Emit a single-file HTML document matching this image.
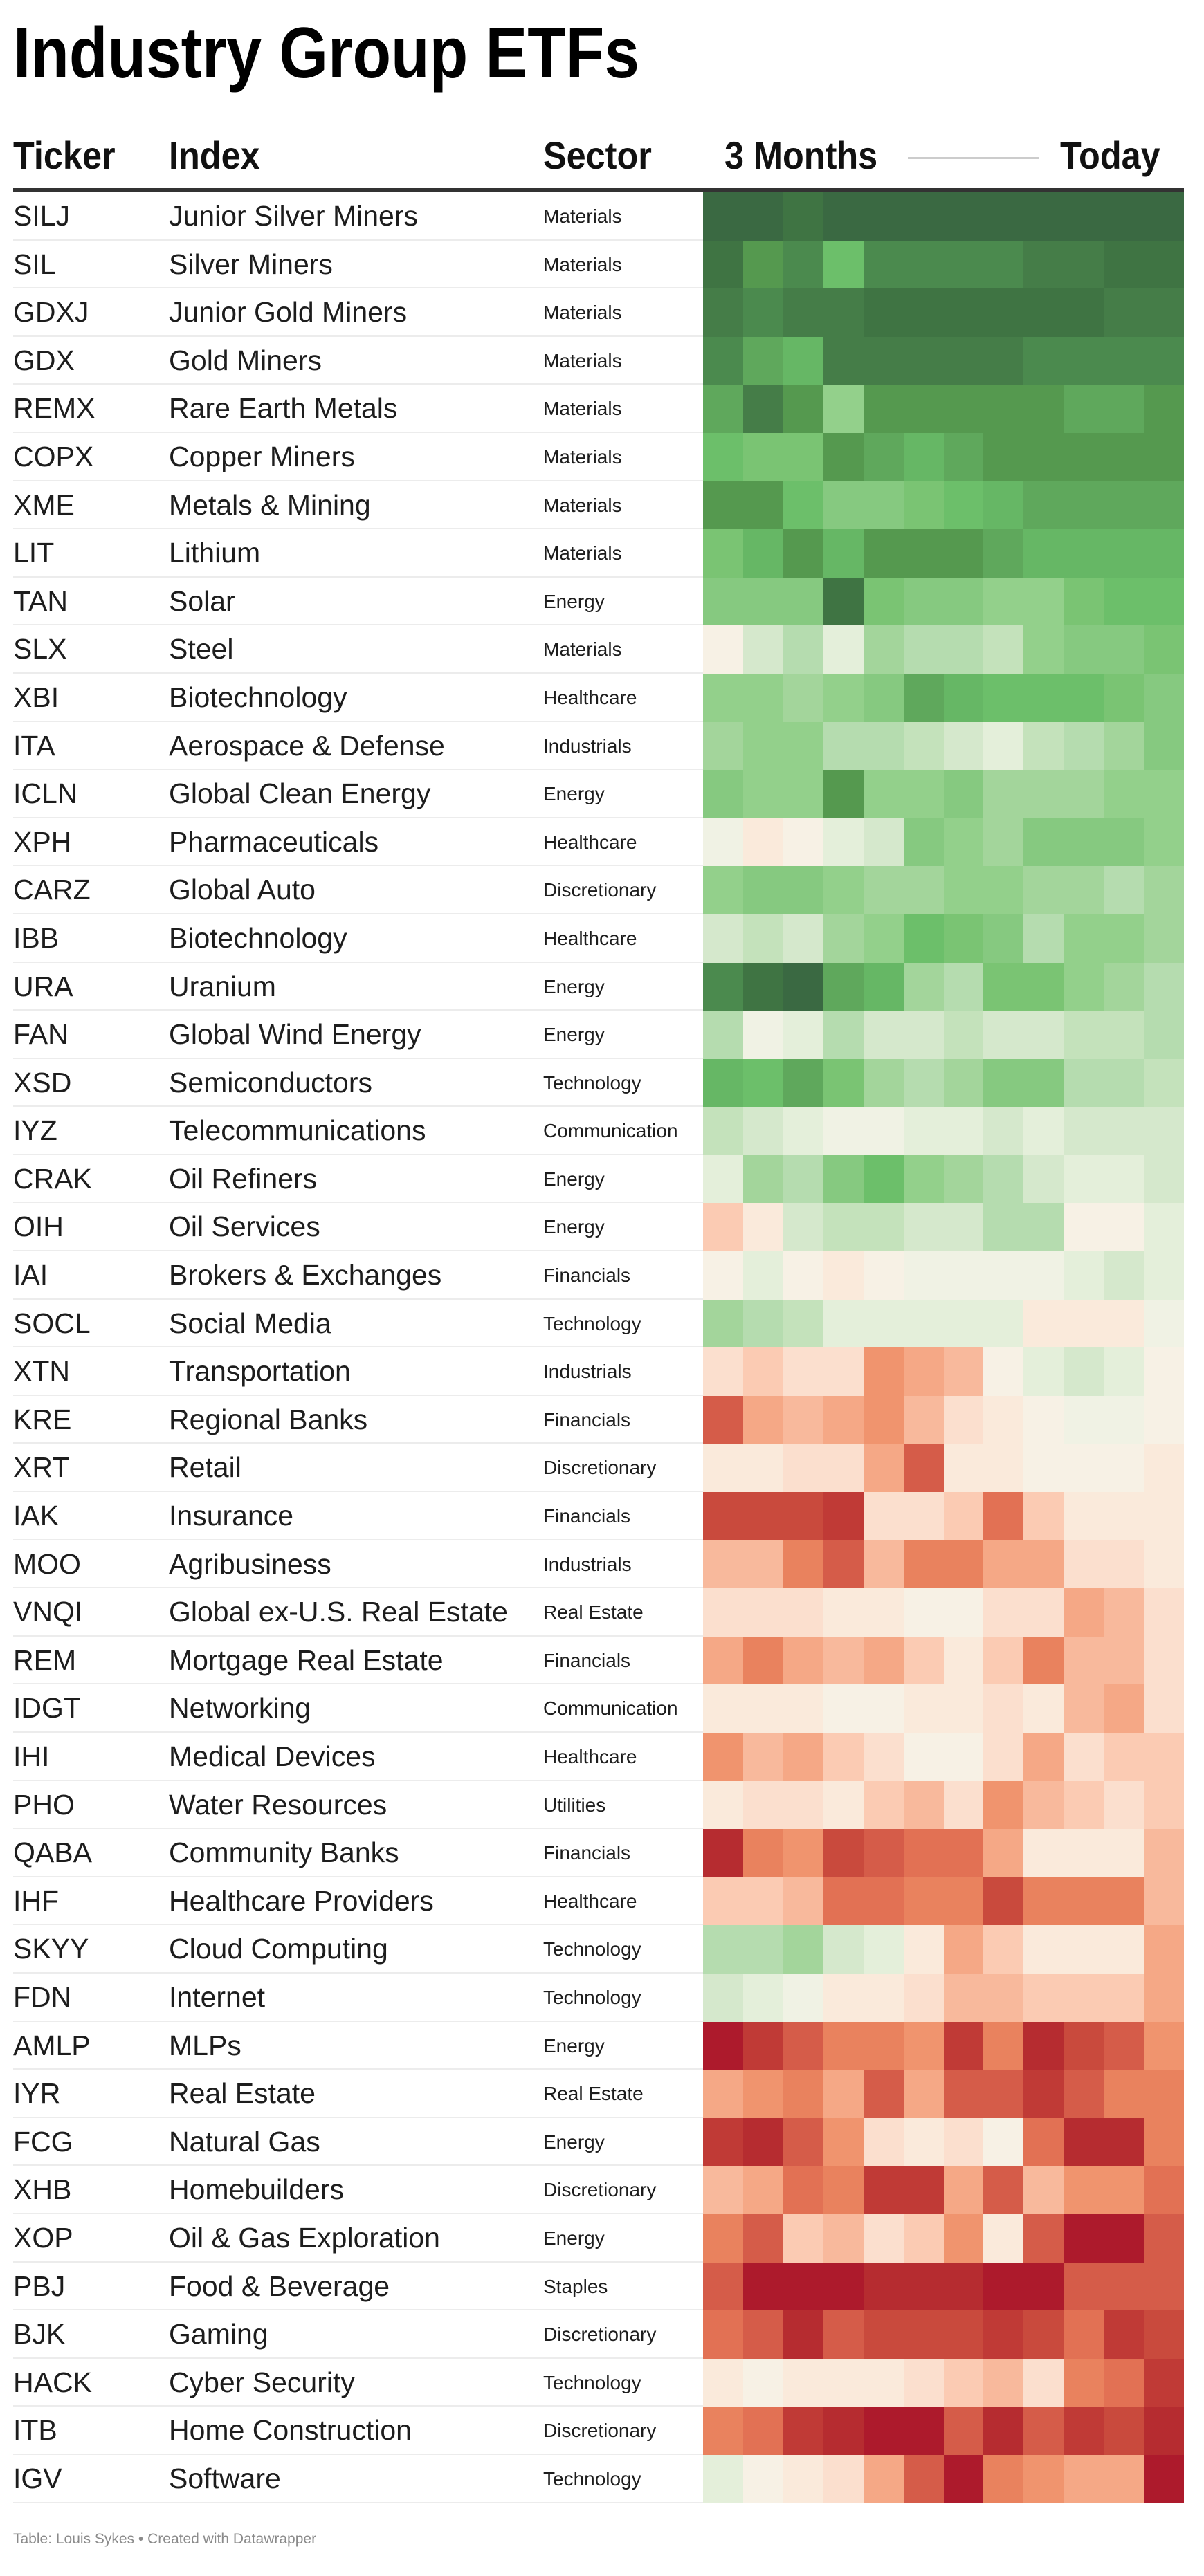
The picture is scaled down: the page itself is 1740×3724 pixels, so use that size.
<!DOCTYPE html>
<html><head><meta charset="utf-8">
<style>
*{margin:0;padding:0;box-sizing:border-box}
body{width:1740px;height:3724px;background:#fff;font-family:"Liberation Sans",Arial,sans-serif;color:#1d1d1d;position:relative;overflow:hidden}
.title{position:absolute;left:19px;top:22px;font-size:104px;font-weight:bold;line-height:110px;transform:scaleX(0.875);transform-origin:left top;color:#000;white-space:nowrap}
.hd{position:absolute;top:192px;font-size:56px;font-weight:bold;line-height:66px;transform:scaleX(0.9);transform-origin:left top;white-space:nowrap;color:#111}
.hline{position:absolute;left:1312px;top:227px;width:189px;height:3px;background:#ccc}
.rule{position:absolute;left:19px;top:272px;width:1692px;height:6px;background:#333}
.rows{position:absolute;left:0;top:278px;width:1740px}
.r{position:relative;height:69.6px;}
.r:after{content:"";position:absolute;left:19px;width:997px;bottom:0;height:2px;background:#ececec}
.t,.n,.s{position:absolute;top:0;line-height:69.6px;white-space:nowrap}
.t{left:19px;font-size:41px}
.n{left:244px;font-size:41px}
.s{left:785px;font-size:28px}
.h{position:absolute;left:1016px;top:0;width:695px;height:69.6px;display:grid;grid-template-columns:repeat(12,1fr)}
.h i{display:block}
.g1{background:#3a6942}.g2{background:#3f7443}.g3{background:#457d48}.g4{background:#4b8a4e}.g5{background:#55994f}.g6{background:#5fa85c}.g7{background:#66b765}.g8{background:#6cbf6a}.g9{background:#7ac473}.g10{background:#86c980}.g11{background:#93d08b}.g12{background:#a3d59b}.g13{background:#b5dcaf}.g14{background:#c4e2bb}.g15{background:#d5e8cc}.g16{background:#e4efda}.g17{background:#f0f2e4}.nn{background:#f7f1e5}
.r1{background:#faeadb}.r2{background:#fbdfce}.r3{background:#fbcbb3}.r4{background:#f8b99c}.r5{background:#f5a886}.r6{background:#f0946e}.r7{background:#e9825e}.r8{background:#e27154}.r9{background:#d55c49}.r10{background:#c94a3d}.r11{background:#c03a36}.r12{background:#b62c30}.r13{background:#ad1a2c}
.foot{position:absolute;left:19px;top:3658px;font-size:21px;color:#8a8a8a;line-height:26px}
</style></head><body>
<div class="title">Industry Group ETFs</div>
<div class="hd" style="left:19px">Ticker</div>
<div class="hd" style="left:244px">Index</div>
<div class="hd" style="left:785px">Sector</div>
<div class="hd" style="left:1047px">3 Months</div>
<div class="hline"></div>
<div class="hd" style="left:1532px">Today</div>
<div class="rule"></div>
<div class="rows">
<div class="r"><span class="t">SILJ</span><span class="n">Junior Silver Miners</span><span class="s">Materials</span><div class="h"><i class=g1></i><i class=g1></i><i class=g2></i><i class=g1></i><i class=g1></i><i class=g1></i><i class=g1></i><i class=g1></i><i class=g1></i><i class=g1></i><i class=g1></i><i class=g1></i></div></div>
<div class="r"><span class="t">SIL</span><span class="n">Silver Miners</span><span class="s">Materials</span><div class="h"><i class=g2></i><i class=g5></i><i class=g4></i><i class=g8></i><i class=g4></i><i class=g4></i><i class=g4></i><i class=g4></i><i class=g3></i><i class=g3></i><i class=g2></i><i class=g2></i></div></div>
<div class="r"><span class="t">GDXJ</span><span class="n">Junior Gold Miners</span><span class="s">Materials</span><div class="h"><i class=g3></i><i class=g4></i><i class=g3></i><i class=g3></i><i class=g2></i><i class=g2></i><i class=g2></i><i class=g2></i><i class=g2></i><i class=g2></i><i class=g3></i><i class=g3></i></div></div>
<div class="r"><span class="t">GDX</span><span class="n">Gold Miners</span><span class="s">Materials</span><div class="h"><i class=g4></i><i class=g6></i><i class=g7></i><i class=g3></i><i class=g3></i><i class=g3></i><i class=g3></i><i class=g3></i><i class=g4></i><i class=g4></i><i class=g4></i><i class=g4></i></div></div>
<div class="r"><span class="t">REMX</span><span class="n">Rare Earth Metals</span><span class="s">Materials</span><div class="h"><i class=g6></i><i class=g3></i><i class=g5></i><i class=g11></i><i class=g5></i><i class=g5></i><i class=g5></i><i class=g5></i><i class=g5></i><i class=g6></i><i class=g6></i><i class=g5></i></div></div>
<div class="r"><span class="t">COPX</span><span class="n">Copper Miners</span><span class="s">Materials</span><div class="h"><i class=g8></i><i class=g9></i><i class=g9></i><i class=g5></i><i class=g6></i><i class=g7></i><i class=g6></i><i class=g5></i><i class=g5></i><i class=g5></i><i class=g5></i><i class=g5></i></div></div>
<div class="r"><span class="t">XME</span><span class="n">Metals &amp; Mining</span><span class="s">Materials</span><div class="h"><i class=g5></i><i class=g5></i><i class=g8></i><i class=g10></i><i class=g10></i><i class=g9></i><i class=g8></i><i class=g7></i><i class=g6></i><i class=g6></i><i class=g6></i><i class=g6></i></div></div>
<div class="r"><span class="t">LIT</span><span class="n">Lithium</span><span class="s">Materials</span><div class="h"><i class=g9></i><i class=g7></i><i class=g5></i><i class=g7></i><i class=g5></i><i class=g5></i><i class=g5></i><i class=g6></i><i class=g7></i><i class=g7></i><i class=g7></i><i class=g7></i></div></div>
<div class="r"><span class="t">TAN</span><span class="n">Solar</span><span class="s">Energy</span><div class="h"><i class=g10></i><i class=g10></i><i class=g10></i><i class=g2></i><i class=g9></i><i class=g10></i><i class=g10></i><i class=g11></i><i class=g11></i><i class=g9></i><i class=g8></i><i class=g8></i></div></div>
<div class="r"><span class="t">SLX</span><span class="n">Steel</span><span class="s">Materials</span><div class="h"><i class=nn></i><i class=g15></i><i class=g13></i><i class=g16></i><i class=g12></i><i class=g13></i><i class=g13></i><i class=g14></i><i class=g11></i><i class=g10></i><i class=g10></i><i class=g9></i></div></div>
<div class="r"><span class="t">XBI</span><span class="n">Biotechnology</span><span class="s">Healthcare</span><div class="h"><i class=g11></i><i class=g11></i><i class=g12></i><i class=g11></i><i class=g10></i><i class=g6></i><i class=g7></i><i class=g8></i><i class=g8></i><i class=g8></i><i class=g9></i><i class=g10></i></div></div>
<div class="r"><span class="t">ITA</span><span class="n">Aerospace &amp; Defense</span><span class="s">Industrials</span><div class="h"><i class=g12></i><i class=g11></i><i class=g11></i><i class=g13></i><i class=g13></i><i class=g14></i><i class=g15></i><i class=g16></i><i class=g14></i><i class=g13></i><i class=g12></i><i class=g10></i></div></div>
<div class="r"><span class="t">ICLN</span><span class="n">Global Clean Energy</span><span class="s">Energy</span><div class="h"><i class=g10></i><i class=g11></i><i class=g11></i><i class=g5></i><i class=g11></i><i class=g11></i><i class=g10></i><i class=g12></i><i class=g12></i><i class=g12></i><i class=g11></i><i class=g11></i></div></div>
<div class="r"><span class="t">XPH</span><span class="n">Pharmaceuticals</span><span class="s">Healthcare</span><div class="h"><i class=g17></i><i class=r1></i><i class=nn></i><i class=g16></i><i class=g15></i><i class=g10></i><i class=g11></i><i class=g12></i><i class=g10></i><i class=g10></i><i class=g10></i><i class=g11></i></div></div>
<div class="r"><span class="t">CARZ</span><span class="n">Global Auto</span><span class="s">Discretionary</span><div class="h"><i class=g11></i><i class=g10></i><i class=g10></i><i class=g11></i><i class=g12></i><i class=g12></i><i class=g11></i><i class=g11></i><i class=g12></i><i class=g12></i><i class=g13></i><i class=g12></i></div></div>
<div class="r"><span class="t">IBB</span><span class="n">Biotechnology</span><span class="s">Healthcare</span><div class="h"><i class=g15></i><i class=g14></i><i class=g15></i><i class=g12></i><i class=g11></i><i class=g8></i><i class=g9></i><i class=g10></i><i class=g13></i><i class=g11></i><i class=g11></i><i class=g12></i></div></div>
<div class="r"><span class="t">URA</span><span class="n">Uranium</span><span class="s">Energy</span><div class="h"><i class=g4></i><i class=g2></i><i class=g1></i><i class=g6></i><i class=g7></i><i class=g12></i><i class=g13></i><i class=g9></i><i class=g9></i><i class=g11></i><i class=g12></i><i class=g13></i></div></div>
<div class="r"><span class="t">FAN</span><span class="n">Global Wind Energy</span><span class="s">Energy</span><div class="h"><i class=g13></i><i class=g17></i><i class=g16></i><i class=g13></i><i class=g15></i><i class=g15></i><i class=g14></i><i class=g15></i><i class=g15></i><i class=g14></i><i class=g14></i><i class=g13></i></div></div>
<div class="r"><span class="t">XSD</span><span class="n">Semiconductors</span><span class="s">Technology</span><div class="h"><i class=g7></i><i class=g8></i><i class=g6></i><i class=g9></i><i class=g12></i><i class=g13></i><i class=g12></i><i class=g10></i><i class=g10></i><i class=g13></i><i class=g13></i><i class=g14></i></div></div>
<div class="r"><span class="t">IYZ</span><span class="n">Telecommunications</span><span class="s">Communication</span><div class="h"><i class=g14></i><i class=g15></i><i class=g16></i><i class=g17></i><i class=g17></i><i class=g16></i><i class=g16></i><i class=g15></i><i class=g16></i><i class=g15></i><i class=g15></i><i class=g15></i></div></div>
<div class="r"><span class="t">CRAK</span><span class="n">Oil Refiners</span><span class="s">Energy</span><div class="h"><i class=g16></i><i class=g12></i><i class=g13></i><i class=g10></i><i class=g8></i><i class=g11></i><i class=g12></i><i class=g13></i><i class=g15></i><i class=g16></i><i class=g16></i><i class=g15></i></div></div>
<div class="r"><span class="t">OIH</span><span class="n">Oil Services</span><span class="s">Energy</span><div class="h"><i class=r3></i><i class=r1></i><i class=g15></i><i class=g14></i><i class=g14></i><i class=g15></i><i class=g15></i><i class=g13></i><i class=g13></i><i class=nn></i><i class=nn></i><i class=g16></i></div></div>
<div class="r"><span class="t">IAI</span><span class="n">Brokers &amp; Exchanges</span><span class="s">Financials</span><div class="h"><i class=nn></i><i class=g16></i><i class=nn></i><i class=r1></i><i class=nn></i><i class=g17></i><i class=g17></i><i class=g17></i><i class=g17></i><i class=g16></i><i class=g15></i><i class=g16></i></div></div>
<div class="r"><span class="t">SOCL</span><span class="n">Social Media</span><span class="s">Technology</span><div class="h"><i class=g12></i><i class=g13></i><i class=g14></i><i class=g16></i><i class=g16></i><i class=g16></i><i class=g16></i><i class=g16></i><i class=r1></i><i class=r1></i><i class=r1></i><i class=g17></i></div></div>
<div class="r"><span class="t">XTN</span><span class="n">Transportation</span><span class="s">Industrials</span><div class="h"><i class=r2></i><i class=r3></i><i class=r2></i><i class=r2></i><i class=r6></i><i class=r5></i><i class=r4></i><i class=nn></i><i class=g16></i><i class=g15></i><i class=g16></i><i class=nn></i></div></div>
<div class="r"><span class="t">KRE</span><span class="n">Regional Banks</span><span class="s">Financials</span><div class="h"><i class=r9></i><i class=r5></i><i class=r4></i><i class=r5></i><i class=r6></i><i class=r4></i><i class=r2></i><i class=r1></i><i class=nn></i><i class=g17></i><i class=g17></i><i class=nn></i></div></div>
<div class="r"><span class="t">XRT</span><span class="n">Retail</span><span class="s">Discretionary</span><div class="h"><i class=r1></i><i class=r1></i><i class=r2></i><i class=r2></i><i class=r5></i><i class=r9></i><i class=r1></i><i class=r1></i><i class=nn></i><i class=nn></i><i class=nn></i><i class=r1></i></div></div>
<div class="r"><span class="t">IAK</span><span class="n">Insurance</span><span class="s">Financials</span><div class="h"><i class=r10></i><i class=r10></i><i class=r10></i><i class=r11></i><i class=r2></i><i class=r2></i><i class=r3></i><i class=r8></i><i class=r3></i><i class=r1></i><i class=r1></i><i class=r1></i></div></div>
<div class="r"><span class="t">MOO</span><span class="n">Agribusiness</span><span class="s">Industrials</span><div class="h"><i class=r4></i><i class=r4></i><i class=r7></i><i class=r9></i><i class=r4></i><i class=r7></i><i class=r7></i><i class=r5></i><i class=r5></i><i class=r2></i><i class=r2></i><i class=r1></i></div></div>
<div class="r"><span class="t">VNQI</span><span class="n">Global ex-U.S. Real Estate</span><span class="s">Real Estate</span><div class="h"><i class=r2></i><i class=r2></i><i class=r2></i><i class=r1></i><i class=r1></i><i class=nn></i><i class=nn></i><i class=r2></i><i class=r2></i><i class=r5></i><i class=r4></i><i class=r2></i></div></div>
<div class="r"><span class="t">REM</span><span class="n">Mortgage Real Estate</span><span class="s">Financials</span><div class="h"><i class=r5></i><i class=r7></i><i class=r5></i><i class=r4></i><i class=r5></i><i class=r3></i><i class=r1></i><i class=r3></i><i class=r7></i><i class=r4></i><i class=r4></i><i class=r2></i></div></div>
<div class="r"><span class="t">IDGT</span><span class="n">Networking</span><span class="s">Communication</span><div class="h"><i class=r1></i><i class=r1></i><i class=r1></i><i class=nn></i><i class=nn></i><i class=r1></i><i class=r1></i><i class=r2></i><i class=r1></i><i class=r4></i><i class=r5></i><i class=r2></i></div></div>
<div class="r"><span class="t">IHI</span><span class="n">Medical Devices</span><span class="s">Healthcare</span><div class="h"><i class=r6></i><i class=r4></i><i class=r5></i><i class=r3></i><i class=r2></i><i class=nn></i><i class=nn></i><i class=r2></i><i class=r5></i><i class=r2></i><i class=r3></i><i class=r3></i></div></div>
<div class="r"><span class="t">PHO</span><span class="n">Water Resources</span><span class="s">Utilities</span><div class="h"><i class=r1></i><i class=r2></i><i class=r2></i><i class=r1></i><i class=r3></i><i class=r4></i><i class=r2></i><i class=r6></i><i class=r4></i><i class=r3></i><i class=r2></i><i class=r3></i></div></div>
<div class="r"><span class="t">QABA</span><span class="n">Community Banks</span><span class="s">Financials</span><div class="h"><i class=r12></i><i class=r7></i><i class=r6></i><i class=r10></i><i class=r9></i><i class=r8></i><i class=r8></i><i class=r5></i><i class=r1></i><i class=r1></i><i class=r1></i><i class=r4></i></div></div>
<div class="r"><span class="t">IHF</span><span class="n">Healthcare Providers</span><span class="s">Healthcare</span><div class="h"><i class=r3></i><i class=r3></i><i class=r4></i><i class=r8></i><i class=r8></i><i class=r7></i><i class=r7></i><i class=r10></i><i class=r7></i><i class=r7></i><i class=r7></i><i class=r4></i></div></div>
<div class="r"><span class="t">SKYY</span><span class="n">Cloud Computing</span><span class="s">Technology</span><div class="h"><i class=g13></i><i class=g13></i><i class=g12></i><i class=g15></i><i class=g16></i><i class=r1></i><i class=r5></i><i class=r3></i><i class=r1></i><i class=r1></i><i class=r1></i><i class=r5></i></div></div>
<div class="r"><span class="t">FDN</span><span class="n">Internet</span><span class="s">Technology</span><div class="h"><i class=g15></i><i class=g16></i><i class=g17></i><i class=r1></i><i class=r1></i><i class=r2></i><i class=r4></i><i class=r4></i><i class=r3></i><i class=r3></i><i class=r3></i><i class=r5></i></div></div>
<div class="r"><span class="t">AMLP</span><span class="n">MLPs</span><span class="s">Energy</span><div class="h"><i class=r13></i><i class=r11></i><i class=r9></i><i class=r7></i><i class=r7></i><i class=r6></i><i class=r11></i><i class=r7></i><i class=r12></i><i class=r10></i><i class=r9></i><i class=r6></i></div></div>
<div class="r"><span class="t">IYR</span><span class="n">Real Estate</span><span class="s">Real Estate</span><div class="h"><i class=r5></i><i class=r6></i><i class=r7></i><i class=r5></i><i class=r9></i><i class=r5></i><i class=r9></i><i class=r9></i><i class=r11></i><i class=r9></i><i class=r7></i><i class=r7></i></div></div>
<div class="r"><span class="t">FCG</span><span class="n">Natural Gas</span><span class="s">Energy</span><div class="h"><i class=r11></i><i class=r12></i><i class=r9></i><i class=r6></i><i class=r2></i><i class=r1></i><i class=r2></i><i class=nn></i><i class=r8></i><i class=r12></i><i class=r12></i><i class=r7></i></div></div>
<div class="r"><span class="t">XHB</span><span class="n">Homebuilders</span><span class="s">Discretionary</span><div class="h"><i class=r4></i><i class=r5></i><i class=r8></i><i class=r7></i><i class=r11></i><i class=r11></i><i class=r5></i><i class=r9></i><i class=r4></i><i class=r6></i><i class=r6></i><i class=r8></i></div></div>
<div class="r"><span class="t">XOP</span><span class="n">Oil &amp; Gas Exploration</span><span class="s">Energy</span><div class="h"><i class=r7></i><i class=r9></i><i class=r3></i><i class=r4></i><i class=r2></i><i class=r3></i><i class=r6></i><i class=r1></i><i class=r9></i><i class=r13></i><i class=r13></i><i class=r9></i></div></div>
<div class="r"><span class="t">PBJ</span><span class="n">Food &amp; Beverage</span><span class="s">Staples</span><div class="h"><i class=r9></i><i class=r13></i><i class=r13></i><i class=r13></i><i class=r12></i><i class=r12></i><i class=r12></i><i class=r13></i><i class=r13></i><i class=r9></i><i class=r9></i><i class=r9></i></div></div>
<div class="r"><span class="t">BJK</span><span class="n">Gaming</span><span class="s">Discretionary</span><div class="h"><i class=r8></i><i class=r9></i><i class=r12></i><i class=r9></i><i class=r10></i><i class=r10></i><i class=r10></i><i class=r11></i><i class=r10></i><i class=r8></i><i class=r11></i><i class=r10></i></div></div>
<div class="r"><span class="t">HACK</span><span class="n">Cyber Security</span><span class="s">Technology</span><div class="h"><i class=r1></i><i class=nn></i><i class=r1></i><i class=r1></i><i class=r1></i><i class=r2></i><i class=r3></i><i class=r4></i><i class=r2></i><i class=r7></i><i class=r8></i><i class=r11></i></div></div>
<div class="r"><span class="t">ITB</span><span class="n">Home Construction</span><span class="s">Discretionary</span><div class="h"><i class=r7></i><i class=r8></i><i class=r11></i><i class=r12></i><i class=r13></i><i class=r13></i><i class=r9></i><i class=r12></i><i class=r9></i><i class=r11></i><i class=r10></i><i class=r12></i></div></div>
<div class="r"><span class="t">IGV</span><span class="n">Software</span><span class="s">Technology</span><div class="h"><i class=g16></i><i class=nn></i><i class=r1></i><i class=r2></i><i class=r5></i><i class=r9></i><i class=r13></i><i class=r7></i><i class=r6></i><i class=r5></i><i class=r5></i><i class=r13></i></div></div>
</div>
<div class="foot">Table: Louis Sykes • Created with Datawrapper</div>
</body></html>
